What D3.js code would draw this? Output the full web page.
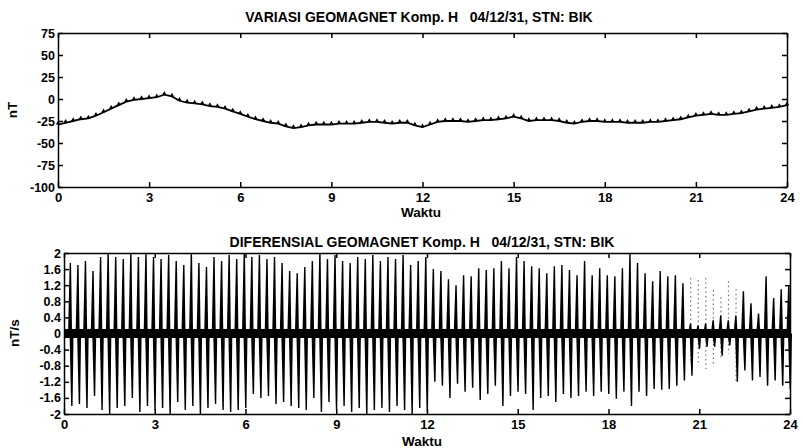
<!DOCTYPE html>
<html>
<head>
<meta charset="utf-8">
<script src="https://cdn.jsdelivr.net/npm/d3@7"></script>
<style>
  body { margin: 0; background: #fff; }
  svg text { font-family: "Liberation Sans", Arial, sans-serif; font-weight: bold; fill: #000; white-space: pre; }
  .axis path, .axis line { stroke: #000; stroke-width: 1.5; }
</style>
</head>
<body>
<svg id="chart" width="803" height="448"></svg>
<script>
// ---- data ----
var hourTicks = [0, 3, 6, 9, 12, 15, 18, 21, 24];
var varTicks = [-100, -75, -50, -25, 0, 25, 50, 75];
var difTicks = [-2, -1.6, -1.2, -0.8, -0.4, 0, 0.4, 0.8, 1.2, 1.6, 2];

// komponen H tiap 15 menit (nT), 00:00 - 24:00
var sampleStep = 0.25;
var varH = [
  -29, -27, -25, -23, -22, -19, -15, -11, -7, -3, -1, 0, 1, 2, 5, 3,
  -2, -4, -5, -6, -8, -9, -11, -14, -17, -20, -23, -25, -27, -28, -31, -33,
  -32, -30, -29, -29, -29, -28, -28, -28, -27, -26, -26, -27, -28, -27, -27, -30,
  -32, -29, -26, -25, -25, -25, -26, -25, -24, -24, -23, -22, -20, -22, -25, -24,
  -24, -24, -25, -27, -28, -26, -25, -25, -26, -26, -26, -27, -27, -27, -26, -26,
  -25, -24, -23, -21, -19, -18, -17, -18, -18, -17, -16, -14, -12, -11, -10, -9,
  -7
];

// diferensial: puncak positif / negatif tiap lonjakan (nT/s)
var spikeStart = 0.2;
var difPos = [
  1.75, 1.7, 1.8, 1.55, 1.9, 2.0, 1.9, 1.85, 2.0, 1.9, 2.0, 1.9, 1.85, 1.95, 1.8, 1.7, 2.0, 1.75, 1.65, 1.9, 1.8, 1.95, 1.85, 2.0,
  1.9, 1.95, 1.85, 1.9, 1.75, 1.55, 1.5, 1.65, 1.8, 2.0, 1.85, 1.95, 1.8, 1.75, 1.9, 1.85, 1.95, 1.8, 1.9, 1.85, 1.95, 1.7, 1.8, 1.9,
  1.6, 1.55, 1.35, 1.2, 1.45, 1.42, 1.62, 1.58, 1.62, 1.8, 1.62, 1.9, 1.8, 1.67, 1.62, 1.5, 1.67, 1.7, 1.58, 1.45, 1.8, 1.45, 1.62, 1.45,
  1.42, 1.62, 1.98, 1.75, 1.5, 1.3, 1.55, 1.42, 1.45, 1.25, 0.25, 0.2, 0.25, 0.33, 0.45, 0.33, 0.45, 1.05, 0.75, 0.5, 1.42, 0.88, 1.1, 1.2
];
var difNeg = [
  -1.8, -1.75, -1.85, -1.55, -1.9, -2.0, -1.85, -1.8, -1.6, -1.95, -1.8, -1.9, -1.85, -2.0, -1.7, -1.9, -1.8, -2.0, -1.85, -1.75, -1.9, -1.95, -1.9, -1.85,
  -1.5, -1.6, -1.55, -1.75, -1.7, -1.8, -1.85, -1.9, -1.6, -1.95, -1.7, -1.9, -1.8, -1.95, -1.85, -2.0, -1.9, -1.85, -1.95, -1.8, -1.9, -2.0, -1.85, -1.95,
  -1.2, -1.3, -1.6, -1.25, -1.45, -1.35, -1.65, -1.5, -1.3, -1.8, -1.55, -1.45, -1.5, -1.9, -1.6, -1.55, -1.7, -1.5, -1.6, -1.55, -1.45, -1.55, -1.45, -1.5,
  -1.62, -1.45, -1.8, -1.45, -1.55, -1.38, -1.4, -1.38, -1.3, -1.17, -1.05, -0.38, -0.33, -0.33, -0.55, -0.3, -1.2, -0.92, -1.17, -1.08, -1.3, -1.17, -1.3, -1.38
];
// jejak tipis (putus-putus) pada lonjakan kecil sekitar jam 20-22
var faintIdx = [82, 83, 84, 85, 86, 87, 88];
var faintPos = [1.38, 1.33, 1.38, 1.08, 0.9, 1.3, 1.1];
var faintNeg = [-0.7, -0.8, -0.88, -0.75, -0.6, -0.5, -1.2];
var noiseHalf = 0.11; // pita derau di sekitar 0

var titleTop = "VARIASI GEOMAGNET Komp. H   04/12/31, STN: BIK";
var titleBot = "DIFERENSIAL GEOMAGNET Komp. H   04/12/31, STN: BIK";

// ---- chart ----
var svg = d3.select("#chart");

function frame(g, x, y, yTicks, tickLen) {
  g.append("g").attr("class", "axis")
    .attr("transform", "translate(0," + y.range()[0] + ")")
    .call(d3.axisBottom(x).tickValues(hourTicks).tickSize(-tickLen).tickSizeOuter(0).tickPadding(6).tickFormat(String))
    .selectAll("text").style("font-size", "13px");
  g.append("g").attr("class", "axis")
    .attr("transform", "translate(0," + y.range()[1] + ")")
    .call(d3.axisTop(x).tickValues(hourTicks).tickSize(-tickLen).tickSizeOuter(0).tickFormat(""));
  g.append("g").attr("class", "axis")
    .attr("transform", "translate(" + x.range()[0] + ",0)")
    .call(d3.axisLeft(y).tickValues(yTicks).tickSize(-tickLen).tickSizeOuter(0).tickPadding(3).tickFormat(String))
    .selectAll("text").style("font-size", "12.5px");
  g.append("g").attr("class", "axis")
    .attr("transform", "translate(" + x.range()[1] + ",0)")
    .call(d3.axisRight(y).tickValues(yTicks).tickSize(-tickLen).tickSizeOuter(0).tickFormat(""));
}

// panel atas
var x1 = d3.scaleLinear().domain([0, 24]).range([58, 787]);
var y1 = d3.scaleLinear().domain([-100, 75]).range([187, 33]);
var panelTop = svg.append("g");

var line1 = d3.line()
  .x(function(d, i) { return x1(i * sampleStep); })
  .y(function(d) { return y1(d); });
panelTop.append("path").datum(varH)
  .attr("d", line1).attr("fill", "none").attr("stroke", "#000").attr("stroke-width", 1.8);
panelTop.selectAll(".mk").data(varH).enter().append("path")
  .attr("class", "mk")
  .attr("transform", function(d, i) { return "translate(" + x1(i * sampleStep) + "," + (y1(d) - 1.2) + ")"; })
  .attr("d", d3.symbol().type(d3.symbolTriangle).size(8))
  .attr("fill", "#000");
frame(panelTop, x1, y1, varTicks, 5);

panelTop.append("text").attr("x", 419).attr("y", 22).attr("text-anchor", "middle").style("font-size", "14px").text(titleTop);
panelTop.append("text").attr("x", 421).attr("y", 217).attr("text-anchor", "middle").style("font-size", "13.5px").text("Waktu");
panelTop.append("text").attr("transform", "translate(17,110) rotate(-90)").attr("text-anchor", "middle").style("font-size", "13.5px").text("nT");

// panel bawah
var x2 = d3.scaleLinear().domain([0, 24]).range([64, 790]);
var y2 = d3.scaleLinear().domain([-2, 2]).range([414, 253]);
var panelBot = svg.append("g");

// jejak tipis dulu, supaya tertimpa yang hitam
panelBot.selectAll(".fa").data(faintIdx).enter().append("line")
  .attr("class", "fa")
  .attr("x1", function(d) { return x2(spikeStart + d * sampleStep) + 0.5; })
  .attr("x2", function(d) { return x2(spikeStart + d * sampleStep) + 0.5; })
  .attr("y1", function(d, i) { return y2(faintPos[i]); })
  .attr("y2", function(d, i) { return y2(faintNeg[i]); })
  .attr("stroke", "#777").attr("stroke-width", 1.2).attr("stroke-dasharray", "1.5,3");

panelBot.append("path").datum([0, 24])
  .attr("d", d3.area().x(function(d) { return x2(d); }).y0(y2(-noiseHalf)).y1(y2(noiseHalf)))
  .attr("fill", "#000");

var spikes = difPos.map(function(p, i) {
  return { t: spikeStart + i * sampleStep, p: p, n: difNeg[i] };
});
// tiap lonjakan: baji naik lalu baji turun, lebar di dasar dan runcing di ujung
var wedges = panelBot.selectAll(".sp").data(spikes).enter().append("g").attr("class", "sp");
wedges.append("path")
  .attr("d", function(d) {
    var xp = x2(d.t), y0 = y2(0);
    return d3.line()([[xp - 2, y0], [xp - 0.4, y2(d.p)], [xp + 1.0, y2(d.p)], [xp + 2, y0]]) + "Z";
  })
  .attr("fill", "#000");
wedges.append("path")
  .attr("d", function(d) {
    var xp = x2(d.t) + 1.5, y0 = y2(0);
    return d3.line()([[xp - 2, y0], [xp - 0.4, y2(d.n)], [xp + 1.0, y2(d.n)], [xp + 2, y0]]) + "Z";
  })
  .attr("fill", "#000");
frame(panelBot, x2, y2, difTicks, 5);

panelBot.append("text").attr("x", 422).attr("y", 247).attr("text-anchor", "middle").style("font-size", "14px").text(titleBot);
panelBot.append("text").attr("x", 422).attr("y", 446).attr("text-anchor", "middle").style("font-size", "13.5px").text("Waktu");
panelBot.append("text").attr("transform", "translate(19,333) rotate(-90)").attr("text-anchor", "middle").style("font-size", "13.5px").text("nT/s");
</script>
</body>
</html>
